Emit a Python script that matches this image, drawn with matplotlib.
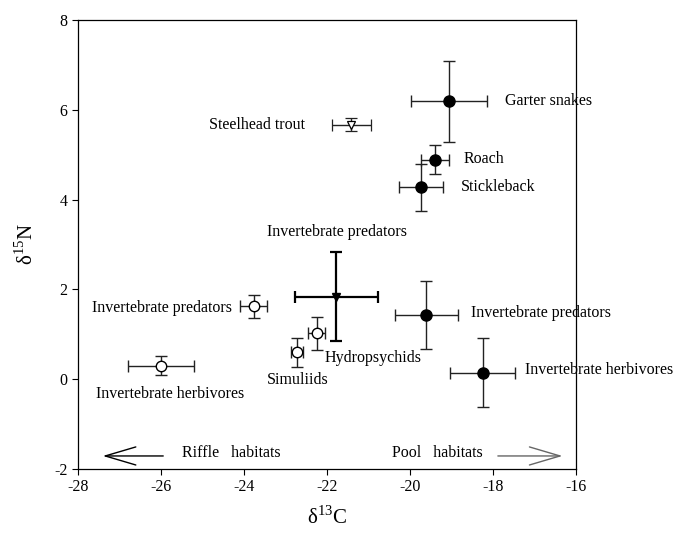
import matplotlib
matplotlib.use("Agg")
import matplotlib.pyplot as plt

plt.rcParams["font.family"] = ["Liberation Serif", "DejaVu Serif"]
plt.rcParams["mathtext.fontset"] = "custom"
plt.rcParams["mathtext.rm"] = "Liberation Serif"
plt.rcParams["axes.unicode_minus"] = False

# delta 13C, delta 15N means and error bars
fish_x = [-19.06, -19.40, -19.73]
fish_y = [6.19, 4.89, 4.27]
fish_xerr = [0.91, 0.33, 0.53]
fish_yerr = [0.90, 0.33, 0.53]

pool_x = [-19.61, -18.25]
pool_y = [1.43, 0.14]
pool_xerr = [0.76, 0.78]
pool_yerr = [0.76, 0.77]

riffle_x = [-23.77, -22.25, -22.72, -26.0]
riffle_y = [1.62, 1.02, 0.60, 0.30]
riffle_xerr = [0.33, 0.20, 0.14, 0.80]
riffle_yerr = [0.25, 0.37, 0.32, 0.21]

trout_x, trout_y, trout_xerr, trout_yerr = [-21.42], [5.67], [0.47], [0.14]
pred_x, pred_y, pred_xerr, pred_yerr = [-21.78], [1.84], [1.0], [1.0]

labels = ["Garter snakes", "Steelhead trout", "Roach", "Stickleback",
          "Invertebrate predators", "Invertebrate predators",
          "Invertebrate predators", "Hydropsychids", "Simuliids",
          "Invertebrate herbivores", "Invertebrate herbivores"]
label_pos = [(-17.71, 6.19, "left"), (-22.53, 5.67, "right"),
             (-18.70, 4.90, "left"), (-18.77, 4.28, "left"),
             (-21.75, 3.27, "center"), (-24.28, 1.58, "right"),
             (-18.52, 1.48, "left"), (-22.06, 0.48, "left"),
             (-23.46, -0.02, "left"), (-25.77, -0.34, "center"),
             (-17.22, 0.20, "left")]

fig = plt.figure(figsize=(6.82, 5.35), dpi=100)
ax = fig.add_axes([0.1144, 0.1234, 0.7302, 0.8392])

eb = dict(ls="none", ecolor="#222222", elinewidth=1.0, capsize=4, capthick=1.0)
ax.errorbar(fish_x, fish_y, xerr=fish_xerr, yerr=fish_yerr, marker="o",
            ms=8, mfc="black", mec="black", **eb)
ax.errorbar(pool_x, pool_y, xerr=pool_xerr, yerr=pool_yerr, marker="o",
            ms=8, mfc="black", mec="black", **eb)
ax.errorbar(riffle_x, riffle_y, xerr=riffle_xerr, yerr=riffle_yerr,
            marker="o", ms=7.5, mfc="white", mec="black", mew=1.0, **eb)
ax.errorbar(trout_x, trout_y, xerr=trout_xerr, yerr=trout_yerr, marker="v",
            ms=6, mfc="white", mec="black", mew=0.9, **eb)
ax.errorbar(pred_x, pred_y, xerr=pred_xerr, yerr=pred_yerr, marker="v",
            ms=6, mfc="black", mec="black", ls="none", ecolor="black",
            elinewidth=1.6, capsize=4, capthick=1.6)

for txt, (tx, ty, ha) in zip(labels, label_pos):
    ax.text(tx, ty, txt, ha=ha, va="center", fontsize=11.5)

# habitat arrows
head = "->,head_length=2.2,head_width=0.65"
ax.annotate("", xy=(-27.47, -1.71), xytext=(-25.88, -1.71),
            arrowprops=dict(arrowstyle=head, color="black", lw=1.0))
ax.annotate("", xy=(-16.26, -1.71), xytext=(-17.95, -1.71),
            arrowprops=dict(arrowstyle=head, color="#666666", lw=1.0))
ax.text(-25.5, -1.65, "Riffle   habitats", ha="left", va="center",
        fontsize=11.5)
ax.text(-20.43, -1.65, "Pool   habitats", ha="left", va="center",
        fontsize=11.5)

ax.set_xlim(-28, -16)
ax.set_ylim(-2, 8)
ax.set_xticks(range(-28, -15, 2))
ax.set_yticks(range(-2, 9, 2))
ax.tick_params(direction="out", length=4, labelsize=11.5, top=False,
               right=False)
for sp in ax.spines.values():
    sp.set_linewidth(0.9)
ax.set_xlabel("\u03b4$^{13}$C", fontsize=15, labelpad=8)
ax.set_ylabel("\u03b4$^{15}$N", fontsize=15, labelpad=12)

fig.savefig("out.png", dpi=100)
